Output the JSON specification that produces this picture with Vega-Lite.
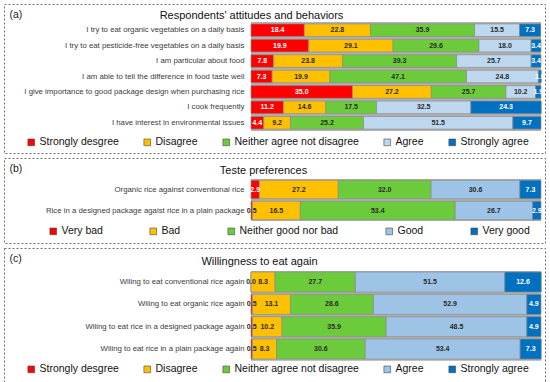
{
  "$schema": "https://vega.github.io/schema/vega-lite/v6.json",
  "padding": {"left": 3, "top": 3, "right": 6, "bottom": 5},
  "spacing": 3,
  "datasets": {
    "a": [
      {"item": "I try to eat organic vegetables on a daily basis", "cat": "Strongly desgree", "k": 1, "v": 18.4},
      {"item": "I try to eat organic vegetables on a daily basis", "cat": "Disagree", "k": 2, "v": 22.8},
      {"item": "I try to eat organic vegetables on a daily basis", "cat": "Neither agree not disagree", "k": 3, "v": 35.9},
      {"item": "I try to eat organic vegetables on a daily basis", "cat": "Agree", "k": 4, "v": 15.5},
      {"item": "I try to eat organic vegetables on a daily basis", "cat": "Strongly agree", "k": 5, "v": 7.3},
      {"item": "I try to eat pesticide-free vegetables on a daily basis", "cat": "Strongly desgree", "k": 1, "v": 19.9},
      {"item": "I try to eat pesticide-free vegetables on a daily basis", "cat": "Disagree", "k": 2, "v": 29.1},
      {"item": "I try to eat pesticide-free vegetables on a daily basis", "cat": "Neither agree not disagree", "k": 3, "v": 29.6},
      {"item": "I try to eat pesticide-free vegetables on a daily basis", "cat": "Agree", "k": 4, "v": 18.0},
      {"item": "I try to eat pesticide-free vegetables on a daily basis", "cat": "Strongly agree", "k": 5, "v": 3.4},
      {"item": "I am particular about food", "cat": "Strongly desgree", "k": 1, "v": 7.8},
      {"item": "I am particular about food", "cat": "Disagree", "k": 2, "v": 23.8},
      {"item": "I am particular about food", "cat": "Neither agree not disagree", "k": 3, "v": 39.3},
      {"item": "I am particular about food", "cat": "Agree", "k": 4, "v": 25.7},
      {"item": "I am particular about food", "cat": "Strongly agree", "k": 5, "v": 3.4},
      {"item": "I am able to tell the difference in food taste well", "cat": "Strongly desgree", "k": 1, "v": 7.3},
      {"item": "I am able to tell the difference in food taste well", "cat": "Disagree", "k": 2, "v": 19.9},
      {"item": "I am able to tell the difference in food taste well", "cat": "Neither agree not disagree", "k": 3, "v": 47.1},
      {"item": "I am able to tell the difference in food taste well", "cat": "Agree", "k": 4, "v": 24.8},
      {"item": "I am able to tell the difference in food taste well", "cat": "Strongly agree", "k": 5, "v": 1.0},
      {"item": "I give importance to good package design when purchasing rice", "cat": "Strongly desgree", "k": 1, "v": 35.0},
      {"item": "I give importance to good package design when purchasing rice", "cat": "Disagree", "k": 2, "v": 27.2},
      {"item": "I give importance to good package design when purchasing rice", "cat": "Neither agree not disagree", "k": 3, "v": 25.7},
      {"item": "I give importance to good package design when purchasing rice", "cat": "Agree", "k": 4, "v": 10.2},
      {"item": "I give importance to good package design when purchasing rice", "cat": "Strongly agree", "k": 5, "v": 1.9},
      {"item": "I cook frequently", "cat": "Strongly desgree", "k": 1, "v": 11.2},
      {"item": "I cook frequently", "cat": "Disagree", "k": 2, "v": 14.6},
      {"item": "I cook frequently", "cat": "Neither agree not disagree", "k": 3, "v": 17.5},
      {"item": "I cook frequently", "cat": "Agree", "k": 4, "v": 32.5},
      {"item": "I cook frequently", "cat": "Strongly agree", "k": 5, "v": 24.3},
      {"item": "I have interest in environmental issues", "cat": "Strongly desgree", "k": 1, "v": 4.4},
      {"item": "I have interest in environmental issues", "cat": "Disagree", "k": 2, "v": 9.2},
      {"item": "I have interest in environmental issues", "cat": "Neither agree not disagree", "k": 3, "v": 25.2},
      {"item": "I have interest in environmental issues", "cat": "Agree", "k": 4, "v": 51.5},
      {"item": "I have interest in environmental issues", "cat": "Strongly agree", "k": 5, "v": 9.7}
    ],
    "b": [
      {"item": "Organic rice against conventional rice", "cat": "Very bad", "k": 1, "v": 2.9},
      {"item": "Organic rice against conventional rice", "cat": "Bad", "k": 2, "v": 27.2},
      {"item": "Organic rice against conventional rice", "cat": "Neither good nor bad", "k": 3, "v": 32.0},
      {"item": "Organic rice against conventional rice", "cat": "Good", "k": 4, "v": 30.6},
      {"item": "Organic rice against conventional rice", "cat": "Very good", "k": 5, "v": 7.3},
      {"item": "Rice in a designed package agaist rice in a plain package", "cat": "Very bad", "k": 1, "v": 0.5},
      {"item": "Rice in a designed package agaist rice in a plain package", "cat": "Bad", "k": 2, "v": 16.5},
      {"item": "Rice in a designed package agaist rice in a plain package", "cat": "Neither good nor bad", "k": 3, "v": 53.4},
      {"item": "Rice in a designed package agaist rice in a plain package", "cat": "Good", "k": 4, "v": 26.7},
      {"item": "Rice in a designed package agaist rice in a plain package", "cat": "Very good", "k": 5, "v": 2.9}
    ],
    "c": [
      {"item": "Wiling to eat conventional rice again", "cat": "Strongly desgree", "k": 1, "v": 0.0},
      {"item": "Wiling to eat conventional rice again", "cat": "Disagree", "k": 2, "v": 8.3},
      {"item": "Wiling to eat conventional rice again", "cat": "Neither agree not disagree", "k": 3, "v": 27.7},
      {"item": "Wiling to eat conventional rice again", "cat": "Agree", "k": 4, "v": 51.5},
      {"item": "Wiling to eat conventional rice again", "cat": "Strongly agree", "k": 5, "v": 12.6},
      {"item": "Wiling to eat organic rice again", "cat": "Strongly desgree", "k": 1, "v": 0.5},
      {"item": "Wiling to eat organic rice again", "cat": "Disagree", "k": 2, "v": 13.1},
      {"item": "Wiling to eat organic rice again", "cat": "Neither agree not disagree", "k": 3, "v": 28.6},
      {"item": "Wiling to eat organic rice again", "cat": "Agree", "k": 4, "v": 52.9},
      {"item": "Wiling to eat organic rice again", "cat": "Strongly agree", "k": 5, "v": 4.9},
      {"item": "Wiling to eat rice in a designed package again", "cat": "Strongly desgree", "k": 1, "v": 0.5},
      {"item": "Wiling to eat rice in a designed package again", "cat": "Disagree", "k": 2, "v": 10.2},
      {"item": "Wiling to eat rice in a designed package again", "cat": "Neither agree not disagree", "k": 3, "v": 35.9},
      {"item": "Wiling to eat rice in a designed package again", "cat": "Agree", "k": 4, "v": 48.5},
      {"item": "Wiling to eat rice in a designed package again", "cat": "Strongly agree", "k": 5, "v": 4.9},
      {"item": "Wiling to eat rice in a plain package again", "cat": "Strongly desgree", "k": 1, "v": 0.5},
      {"item": "Wiling to eat rice in a plain package again", "cat": "Disagree", "k": 2, "v": 8.3},
      {"item": "Wiling to eat rice in a plain package again", "cat": "Neither agree not disagree", "k": 3, "v": 30.6},
      {"item": "Wiling to eat rice in a plain package again", "cat": "Agree", "k": 4, "v": 53.4},
      {"item": "Wiling to eat rice in a plain package again", "cat": "Strongly agree", "k": 5, "v": 7.3}
    ]
  },
  "vconcat": [
    {
      "width": 541, "height": 149,
      "data": {"name": "a"},
      "layer": [
        {
          "mark": {"type": "bar", "color": "#b0b0b0"},
          "encoding": {
            "y": {"field": "item", "type": "nominal", "sort": null, "scale": {"range": [18.5, 126.5], "paddingInner": 0, "paddingOuter": 0}, "axis": {"title": "(a)"}},
            "x": {"datum": 0, "type": "quantitative", "scale": {"domain": [0, 100], "range": [247, 537]}, "axis": {"orient": "top", "title": "Respondents' attitudes and behaviors", "titleX": 247, "titleY": 11}},
            "x2": {"datum": 100}
          }
        },
        {
          "mark": {"type": "bar", "height": {"band": 0.82}, "stroke": "#8c8c8c", "strokeWidth": 0.7},
          "encoding": {
            "y": {"field": "item", "type": "nominal", "sort": null},
            "x": {"field": "v", "type": "quantitative", "stack": "zero", "axis": {"orient": "top", "title": "Respondents' attitudes and behaviors", "titleX": 247, "titleY": 11}},
            "color": {"field": "cat", "type": "nominal", "scale": {"domain": ["Strongly desgree", "Disagree", "Neither agree not disagree", "Agree", "Strongly agree"], "range": ["#FF0000", "#FFC000", "#6CCB3A", "#BDD7EE", "#0070C0"]}, "legend": {"title": null, "orient": "none", "direction": "horizontal", "legendX": 22, "legendY": 133, "columnPadding": 23}},
            "order": {"field": "k", "type": "quantitative"}
          }
        },
        {
          "mark": {"type": "text", "fontSize": 7, "fontWeight": "bold"},
          "encoding": {
            "y": {"field": "item", "type": "nominal", "sort": null},
            "x": {"field": "v", "type": "quantitative", "stack": "zero", "bandPosition": 0.5, "axis": {"orient": "top", "title": "Respondents' attitudes and behaviors", "titleX": 247, "titleY": 11}},
            "detail": {"field": "cat"},
            "order": {"field": "k", "type": "quantitative"},
            "text": {"field": "v", "type": "quantitative", "format": ".1f"},
            "color": {"condition": {"test": "(datum.k == 1 && datum.v > 1) || datum.k == 5", "value": "#ffffff"}, "value": "#2a2a2a"}
          }
        }
      ]
    },
    {
      "width": 541, "height": 85,
      "data": {"name": "b"},
      "layer": [
        {
          "mark": {"type": "bar", "color": "#b0b0b0"},
          "encoding": {
            "y": {"field": "item", "type": "nominal", "sort": null, "scale": {"range": [21, 63], "paddingInner": 0, "paddingOuter": 0}, "axis": {"title": "(b)"}},
            "x": {"datum": 0, "type": "quantitative", "scale": {"domain": [0, 100], "range": [247, 537]}, "axis": {"orient": "top", "title": "Teste preferences", "titleX": 259, "titleY": 12}},
            "x2": {"datum": 100}
          }
        },
        {
          "mark": {"type": "bar", "height": {"band": 0.88}, "stroke": "#8c8c8c", "strokeWidth": 0.7},
          "encoding": {
            "y": {"field": "item", "type": "nominal", "sort": null},
            "x": {"field": "v", "type": "quantitative", "stack": "zero", "axis": {"orient": "top", "title": "Teste preferences", "titleX": 259, "titleY": 12}},
            "color": {"field": "cat", "type": "nominal", "scale": {"domain": ["Very bad", "Bad", "Neither good nor bad", "Good", "Very good"], "range": ["#FF0000", "#FFC000", "#6CCB3A", "#9DC3E6", "#0070C0"]}, "legend": {"title": null, "orient": "none", "direction": "horizontal", "legendX": 44, "legendY": 68, "columnPadding": 45}},
            "order": {"field": "k", "type": "quantitative"}
          }
        },
        {
          "mark": {"type": "text", "fontSize": 7, "fontWeight": "bold"},
          "encoding": {
            "y": {"field": "item", "type": "nominal", "sort": null},
            "x": {"field": "v", "type": "quantitative", "stack": "zero", "bandPosition": 0.5, "axis": {"orient": "top", "title": "Teste preferences", "titleX": 259, "titleY": 12}},
            "detail": {"field": "cat"},
            "order": {"field": "k", "type": "quantitative"},
            "text": {"field": "v", "type": "quantitative", "format": ".1f"},
            "color": {"condition": {"test": "(datum.k == 1 && datum.v > 1) || datum.k == 5", "value": "#ffffff"}, "value": "#2a2a2a"}
          }
        }
      ]
    },
    {
      "width": 541, "height": 134,
      "data": {"name": "c"},
      "layer": [
        {
          "mark": {"type": "bar", "color": "#b0b0b0"},
          "encoding": {
            "y": {"field": "item", "type": "nominal", "sort": null, "scale": {"range": [22.9, 112.2], "paddingInner": 0, "paddingOuter": 0}, "axis": {"title": "(c)"}},
            "x": {"datum": 0, "type": "quantitative", "scale": {"domain": [0, 100], "range": [247, 537]}, "axis": {"orient": "top", "title": "Willingness to eat again", "titleX": 255, "titleY": 13}},
            "x2": {"datum": 100}
          }
        },
        {
          "mark": {"type": "bar", "height": {"band": 0.9}, "stroke": "#8c8c8c", "strokeWidth": 0.7},
          "encoding": {
            "y": {"field": "item", "type": "nominal", "sort": null},
            "x": {"field": "v", "type": "quantitative", "stack": "zero", "axis": {"orient": "top", "title": "Willingness to eat again", "titleX": 255, "titleY": 13}},
            "color": {"field": "cat", "type": "nominal", "scale": {"domain": ["Strongly desgree", "Disagree", "Neither agree not disagree", "Agree", "Strongly agree"], "range": ["#FF0000", "#FFC000", "#6CCB3A", "#9DC3E6", "#0070C0"]}, "legend": {"title": null, "orient": "none", "direction": "horizontal", "legendX": 22, "legendY": 116, "columnPadding": 23}},
            "order": {"field": "k", "type": "quantitative"}
          }
        },
        {
          "mark": {"type": "text", "fontSize": 7, "fontWeight": "bold"},
          "encoding": {
            "y": {"field": "item", "type": "nominal", "sort": null},
            "x": {"field": "v", "type": "quantitative", "stack": "zero", "bandPosition": 0.5, "axis": {"orient": "top", "title": "Willingness to eat again", "titleX": 255, "titleY": 13}},
            "detail": {"field": "cat"},
            "order": {"field": "k", "type": "quantitative"},
            "text": {"field": "v", "type": "quantitative", "format": ".1f"},
            "color": {"condition": {"test": "(datum.k == 1 && datum.v > 1) || datum.k == 5", "value": "#ffffff"}, "value": "#2a2a2a"}
          }
        }
      ]
    }
  ],
  "resolve": {"scale": {"color": "independent"}, "legend": {"color": "independent"}},
  "config": {
    "font": "Liberation Sans",
    "view": {"stroke": "#707070", "strokeDash": [2, 2], "strokeWidth": 1},
    "axisY": {"ticks": false, "domain": false, "grid": false, "labelFontSize": 7.8, "labelColor": "#3b3b3b", "labelPadding": 7, "labelLimit": 300, "offset": -247, "titleAngle": 0, "titleAlign": "left", "titleBaseline": "middle", "titleFontSize": 10.5, "titleFontWeight": "normal", "titleColor": "#222222", "titleX": -242, "titleY": 10},
    "axisX": {"labels": false, "ticks": false, "domain": false, "grid": false, "titleFontSize": 11, "titleFontWeight": "normal", "titleColor": "#111111", "titleAlign": "center", "titleBaseline": "middle"},
    "legend": {"symbolType": "square", "symbolSize": 45, "labelFontSize": 10.5, "labelColor": "#111111", "labelOffset": 3, "symbolStrokeWidth": 0.6, "symbolStrokeColor": "#444444", "symbolOpacity": 1}
  }
}
